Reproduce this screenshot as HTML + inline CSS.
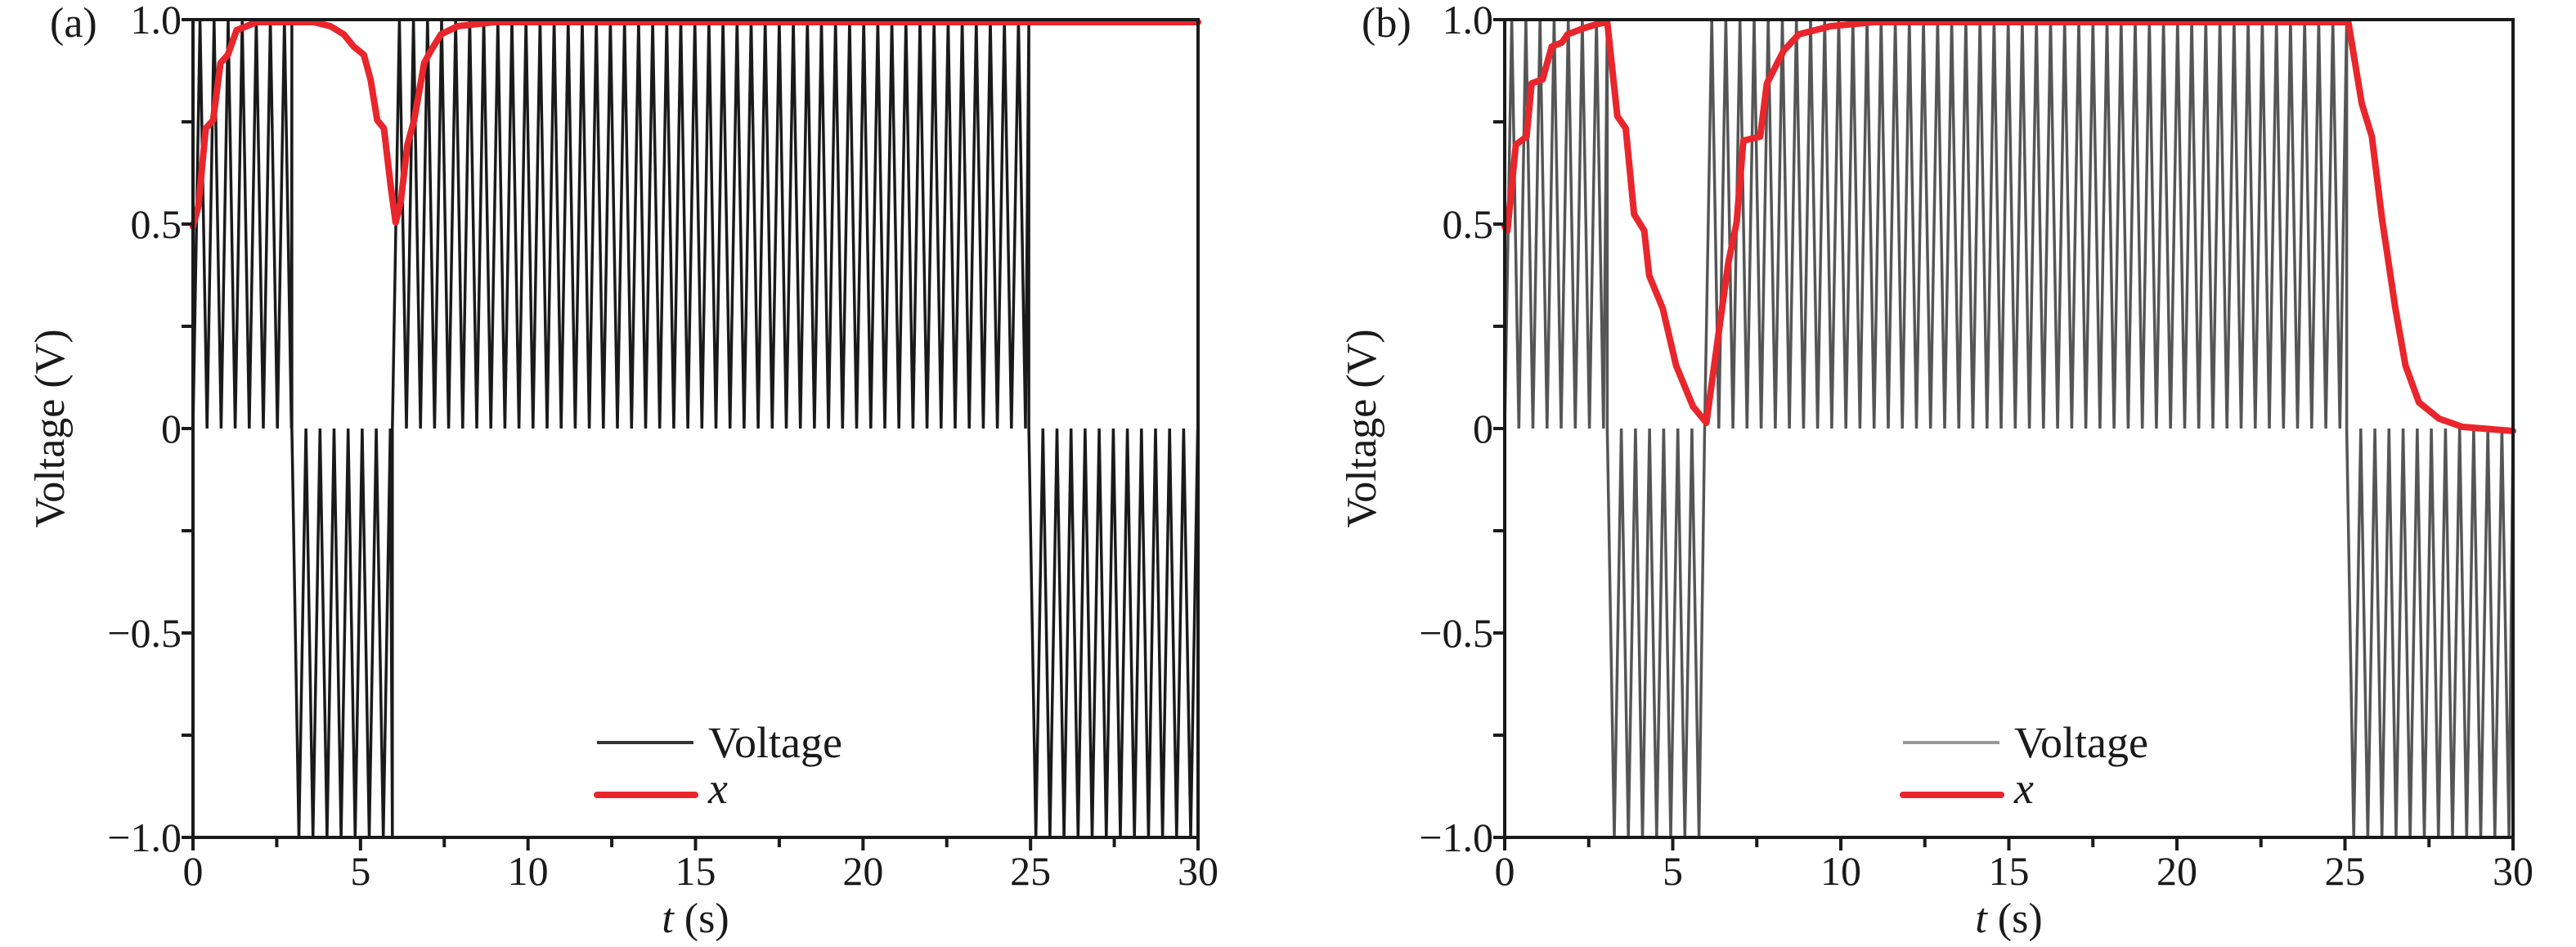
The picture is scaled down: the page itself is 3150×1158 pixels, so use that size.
<!DOCTYPE html>
<html><head><meta charset="utf-8">
<style>
html,body{margin:0;padding:0;background:#fff;}
svg{display:block;}
svg text{font-family:"Liberation Serif","Times New Roman","Noto Serif CJK SC","DejaVu Serif",serif !important;fill:#1a1a1a;}
</style></head>
<body>
<svg id="fig" width="3150" height="1158" viewBox="0 0 3150 1158" xmlns="http://www.w3.org/2000/svg" font-family="Liberation Serif, Noto Serif CJK SC, serif">
  <g id="panelA"></g>
  <g id="panelB"></g>
</svg>
<script>
// ---- data ----
const xTicks = [0, 5, 10, 15, 20, 25, 30];
const xTickLabels = ["0", "5", "10", "15", "20", "25", "30"];
const yTicks = [-1.0, -0.5, 0, 0.5, 1.0];
const yTickLabels = ["\u22121.0", "\u22120.5", "0", "0.5", "1.0"];
// voltage segments: start time, end time, sign (+1 positive pulses 0..1, -1 negative 0..-1)
const segStartA = [0, 2.95, 5.95, 24.95];
const segEndA   = [2.95, 5.95, 24.95, 30];
const segSignA  = [1, -1, 1, -1];
const segStartB = [0, 3.05, 5.95, 25.05];
const segEndB   = [3.05, 5.95, 25.05, 30];
const segSignB  = [1, -1, 1, -1];
const pulsePeriod = 0.42;
// red x state curve
const xTimeA = [0, 0.16, 0.38, 0.6, 0.82, 1.04, 1.3, 1.9, 3.6, 4.1, 4.5, 4.8, 5.1, 5.3, 5.5, 5.7, 5.9, 6.05, 6.2, 6.4, 6.6, 6.9, 7.1, 7.4, 7.9, 9, 30];
const xValA  = [0.5, 0.55, 0.74, 0.76, 0.9, 0.92, 0.98, 1.0, 1.0, 0.99, 0.97, 0.94, 0.92, 0.86, 0.76, 0.74, 0.6, 0.51, 0.56, 0.7, 0.76, 0.9, 0.93, 0.97, 0.99, 1.0, 1.0];
const xTimeB = [0, 0.08, 0.33, 0.65, 0.8, 1.13, 1.4, 1.7, 1.87, 2.35, 2.75, 3.05, 3.35, 3.6, 3.85, 4.15, 4.3, 4.7, 5.1, 5.6, 6.0, 6.3, 6.65, 6.9, 7.1, 7.6, 7.8, 8.3, 8.75, 9.7, 11, 25.1, 25.5, 25.8, 26.1, 26.5, 26.8, 27.2, 27.8, 28.5, 30];
const xValB  = [0.5, 0.49, 0.70, 0.72, 0.85, 0.86, 0.94, 0.95, 0.97, 0.985, 0.995, 1.0, 0.77, 0.74, 0.53, 0.49, 0.38, 0.3, 0.16, 0.06, 0.02, 0.2, 0.41, 0.51, 0.71, 0.72, 0.85, 0.93, 0.97, 0.99, 1.0, 1.0, 0.8, 0.72, 0.52, 0.3, 0.16, 0.07, 0.03, 0.01, 0.0];

const NS = "http://www.w3.org/2000/svg";
function mk(parent, tag, attrs, txt){
  const e = document.createElementNS(NS, tag);
  for (const k in attrs) e.setAttribute(k, attrs[k]);
  if (txt !== undefined) e.textContent = txt;
  parent.appendChild(e);
  return e;
}

function drawPanel(g, cfg){
  const L = cfg.left, R = cfg.right, T = 24, B = 1024;
  const sx = t => L + (t - 0) / 30 * (R - L);
  const sy = v => B - (v + 1) / 2 * (B - T);

  // voltage wave
  let d = "";
  for (let i = 0; i < cfg.segStart.length; i++){
    const s = cfg.segStart[i], e = cfg.segEnd[i], sg = cfg.segSign[i];
    let t = s, first = true;
    while (t < e - 1e-9){
      const tm = Math.min(t + pulsePeriod/2, e), te = Math.min(t + pulsePeriod, e);
      if (first){ d += (d ? "L" : "M") + sx(t).toFixed(1) + "," + sy(0).toFixed(1); first = false; }
      d += "L" + sx(tm).toFixed(1) + "," + sy(sg).toFixed(1);
      if (te > tm) d += "L" + sx(te).toFixed(1) + "," + sy(0).toFixed(1);
      t = te;
    }
  }
  const wave = mk(g, "path", {d: d, fill: "none", stroke: cfg.waveColor, "stroke-width": 3.5, "stroke-linejoin": "miter"});
  
  

  // x curve
  let dx = "";
  for (let i = 0; i < cfg.xt.length; i++){
    dx += (i ? "L" : "M") + sx(cfg.xt[i]).toFixed(1) + "," + (sy(cfg.xv[i]) + 3).toFixed(1);
  }
  const xl = mk(g, "path", {d: dx, fill: "none", stroke: "#e8262b", "stroke-width": 8, "stroke-linejoin": "round", "stroke-linecap": "round"});
  
  

  // frame
  const fr = mk(g, "rect", {x: L, y: T, width: R - L, height: B - T, fill: "none", stroke: "#1a1a1a", "stroke-width": 4});
  
  

  // x ticks
  for (let t = 0; t <= 30; t += 2.5){
    const isMaj = Math.abs(t % 5) < 1e-9;
    const tk = mk(g, "line", {x1: sx(t), x2: sx(t), y1: B, y2: B + (isMaj ? 16 : 12), stroke: "#1a1a1a", "stroke-width": 4});
    
    
  }
  for (let i = 0; i < xTicks.length; i++){
    const lb = mk(g, "text", {x: sx(xTicks[i]), y: 1082, "font-size": 50, "text-anchor": "middle"}, xTickLabels[i]);
    
    
  }
  // y ticks
  for (let v = -1; v <= 1.0001; v += 0.25){
    const tk = mk(g, "line", {x1: L - 14, x2: L, y1: sy(v), y2: sy(v), stroke: "#1a1a1a", "stroke-width": 4});
    
    
  }
  for (let i = 0; i < yTicks.length; i++){
    const lb = mk(g, "text", {x: L - 14, y: sy(yTicks[i]) + 17, "font-size": 50, "text-anchor": "end"}, yTickLabels[i]);
    
    
  }
  // axis titles
  const yt = mk(g, "text", {x: 0, y: 0, "font-size": 52, "text-anchor": "middle", transform: "translate(" + (L - 158) + "," + ((T + B) / 2) + ") rotate(-90)"}, "Voltage (V)");
  
  
  const xt = mk(g, "text", {x: (L + R) / 2, y: 1140, "font-size": 52, "text-anchor": "middle"});
  
  
  mk(xt, "tspan", {"font-style": "italic"}, "t");
  mk(xt, "tspan", {}, " (s)");
  // panel label
  const pl = mk(g, "text", {x: L - 175, y: 45, "font-size": 52}, cfg.label);
  
  

  // legend
  const lg = mk(g, "g", {});
  
  
  const lx = L + cfg.legOff;
  const l1 = mk(lg, "line", {x1: lx, x2: lx + 118, y1: 908, y2: 908, stroke: cfg.legColor, "stroke-width": 4});
  
  
  const t1 = mk(lg, "text", {x: lx + 136, y: 926, "font-size": 54}, "Voltage");
  
  
  const l2 = mk(lg, "line", {x1: lx, x2: lx + 120, y1: 972, y2: 972, stroke: "#e8262b", "stroke-width": 8, "stroke-linecap": "round"});
  
  
  const t2 = mk(lg, "text", {x: lx + 136, y: 982, "font-size": 54, "font-style": "italic"}, "x");
  
  
}

drawPanel(document.getElementById("panelA"), {left: 236, right: 1465, label: "(a)", segStart: segStartA, segEnd: segEndA, segSign: segSignA, xt: xTimeA, xv: xValA, waveColor: "#1a1a1a", legColor: "#333", legOff: 494});
drawPanel(document.getElementById("panelB"), {left: 1840, right: 3073, label: "(b)", segStart: segStartB, segEnd: segEndB, segSign: segSignB, xt: xTimeB, xv: xValB, waveColor: "#555", legColor: "#999", legOff: 487});
</script>
</body></html>
